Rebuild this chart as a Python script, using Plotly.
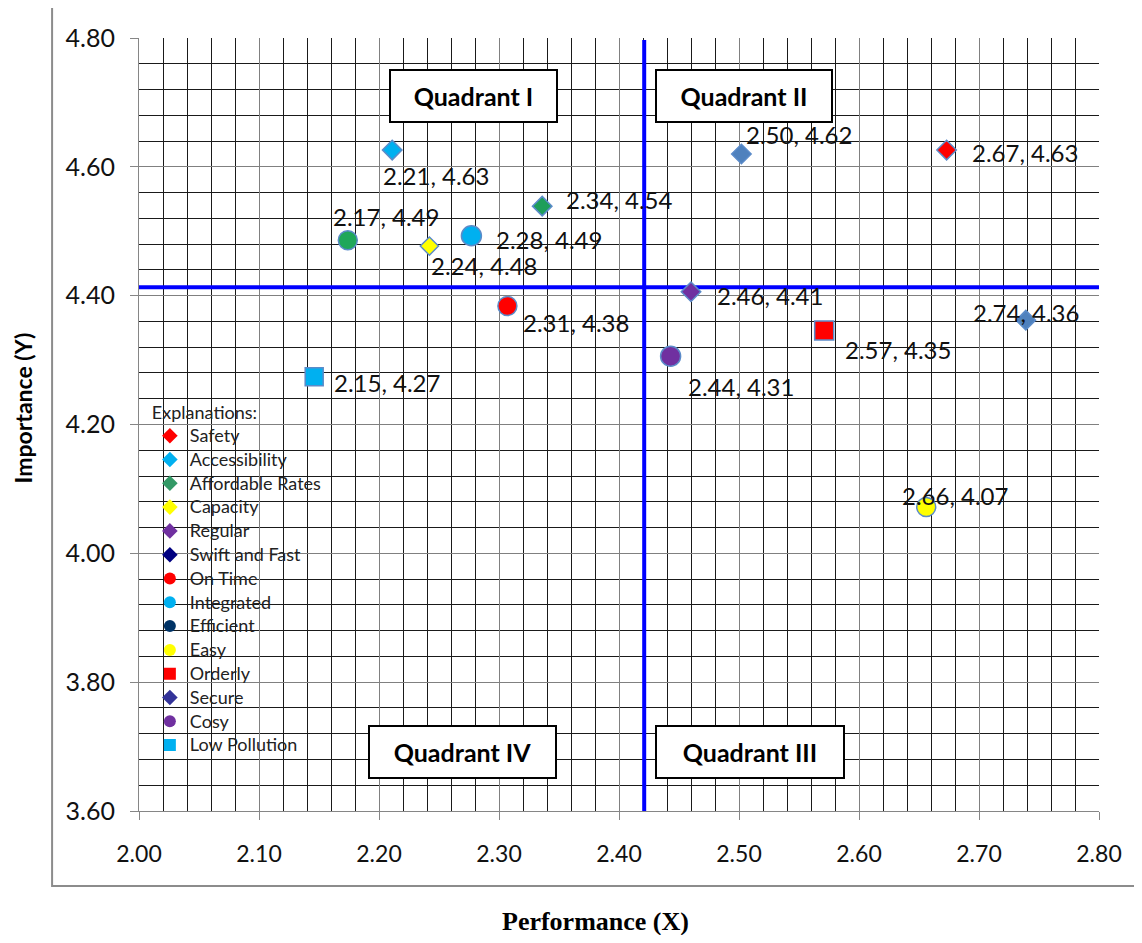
import plotly.graph_objects as go

# ---------------- data ----------------
categories = ["Safety", "Accessibility", "Affordable Rates", "Capacity", "Regular",
              "Swift and Fast", "On Time", "Integrated", "Efficient", "Easy",
              "Orderly", "Secure", "Cosy", "Low Pollution"]
performance = [2.673, 2.211, 2.336, 2.242, 2.460, 2.502, 2.307, 2.277, 2.174, 2.656,
               2.571, 2.739, 2.443, 2.146]
importance = [4.626, 4.626, 4.539, 4.477, 4.406, 4.620, 4.384, 4.493, 4.486, 4.072,
              4.346, 4.362, 4.306, 4.274]
perf_cut = 2.421
imp_cut = 4.413
quadrant_labels = ["Quadrant I", "Quadrant II", "Quadrant III", "Quadrant IV"]

# ---------------- styles ----------------
symbols = ["diamond", "diamond", "diamond", "diamond", "diamond", "diamond",
           "circle", "circle", "circle", "circle", "square", "diamond", "circle", "square"]
legend_colors = ["#FF0000", "#00B0F0", "#339966", "#FFFF00", "#7030A0", "#000080",
                 "#FF0000", "#00B0F0", "#003366", "#FFFF00", "#FF0000", "#333399",
                 "#7030A0", "#00B0F0"]
plot_colors = ["#FF0000", "#00B0F0", "#1E9E5A", "#FFFF00", "#7030A0", "#4F81BD",
               "#FF0000", "#00B0F0", "#1FA75A", "#FFFF00", "#FF0000", "#4F81BD",
               "#7030A0", "#00B0F0"]
sizes = [15, 15, 15, 14, 15, 15, 19, 20, 19, 19, 19, 15, 20, 18]
# label offsets in pixels (dx right, dy down)
label_offsets = [(78, 2), (44, 25), (77, -7), (55, 19), (79, 4), (58, -19),
                 (69, 17), (78, 4), (38, -24), (29, -11), (74, 19), (0, -8),
                 (70, 30), (73, 6)]

FONT = "Lato"
LEG_SPAN = '<span style="font-size:18px">{}</span>'

fig = go.Figure()

# data markers
for i, name in enumerate(categories):
    fig.add_trace(go.Scatter(
        x=[performance[i]], y=[importance[i]], mode="markers", name=name,
        showlegend=False, hoverinfo="text",
        hovertext=f"{name}: {performance[i]:.2f}, {importance[i]:.2f}",
        marker=dict(symbol=symbols[i], color=plot_colors[i], size=sizes[i],
                    line=dict(color="#5B8BC9", width=1.5)),
    ))

# legend-only entries
for i, name in enumerate(categories):
    fig.add_trace(go.Scatter(
        x=[None], y=[None], mode="markers", name=LEG_SPAN.format(name), showlegend=True,
        marker=dict(symbol=symbols[i], color=legend_colors[i], size=12,
                    line=dict(width=0)),
    ))

shapes = []
# outer chart border
shapes.append(dict(type="rect", xref="paper", yref="paper",
                   x0=(51 - 139) / 972, x1=(1150 - 139) / 972,
                   y0=(811 - 886) / 773, y1=(811 - 7) / 773,
                   line=dict(color="#8C8C8C", width=2), fillcolor="rgba(0,0,0,0)",
                   layer="below"))
# legend background
shapes.append(dict(type="rect", xref="paper", yref="paper",
                   x0=(155 - 139) / 972, x1=(343 - 139) / 972,
                   y0=(811 - 768) / 773, y1=(811 - 395) / 773,
                   line=dict(width=0), fillcolor="white", layer="between"))
# quadrant lines
shapes.append(dict(type="line", xref="x", yref="y", x0=perf_cut, x1=perf_cut,
                   y0=3.595, y1=4.797, line=dict(color="#0000FF", width=4), layer="between"))
shapes.append(dict(type="line", xref="x", yref="y", x0=2.0, x1=2.8,
                   y0=imp_cut, y1=imp_cut, line=dict(color="#0000FF", width=4), layer="between"))

annotations = []
for i in range(len(categories)):
    dx, dy = label_offsets[i]
    annotations.append(dict(
        x=performance[i], y=importance[i], xref="x", yref="y",
        text=f"{performance[i]:.2f}, {importance[i]:.2f}", showarrow=False,
        xshift=dx, yshift=-dy, font=dict(family=FONT, size=24, color="#111111")))

# quadrant boxes: (label, center x px, center y px, width px)
quad_boxes = [(quadrant_labels[0], 477.5, 96, 169), (quadrant_labels[1], 752, 96, 178),
              (quadrant_labels[2], 758, 751.5, 190), (quadrant_labels[3], 466.5, 751.5, 189)]
for lab, cx, cy, w in quad_boxes:
    annotations.append(dict(
        x=(cx - 139) / 972, y=(811 - cy) / 773, xref="paper", yref="paper",
        text=f"<b>{lab}</b>", showarrow=False, xanchor="center", yanchor="middle",
        width=w - 4, height=50, bgcolor="white", bordercolor="black",
        borderwidth=2, borderpad=0, font=dict(family=FONT, size=25, color="black")))

# axis titles
annotations.append(dict(x=(22 - 139) / 972, y=(811 - 408) / 773, xref="paper", yref="paper",
                        text="<b>Importance (Y)</b>", showarrow=False, textangle=-90,
                        xanchor="center", yanchor="middle",
                        font=dict(family=FONT, size=23, color="black")))
annotations.append(dict(x=(601 - 139) / 972, y=(811 - 922) / 773, xref="paper", yref="paper",
                        text="<b>Performance (X)</b>", showarrow=False,
                        xanchor="center", yanchor="middle",
                        font=dict(family="Liberation Serif", size=26, color="black")))

fig.update_layout(
    width=1126, height=927,
    margin=dict(l=131, r=23, t=30, b=124),
    paper_bgcolor="white", plot_bgcolor="white",
    shapes=shapes, annotations=annotations,
    showlegend=True,
    legend=dict(x=(150 - 139) / 972, y=(811 - 398) / 773, xanchor="left", yanchor="top",
                bgcolor="rgba(0,0,0,0)", borderwidth=0, tracegroupgap=0,
                title=dict(text=LEG_SPAN.format("Explanations:"),
                           font=dict(family=FONT, size=16, color="#222222")),
                font=dict(family=FONT, size=16, color="#222222"),
                itemclick=False),
    xaxis=dict(range=[2.0, 2.8], tick0=2.0, dtick=0.1, tickformat=".2f",
               showgrid=True, gridcolor="#808080", gridwidth=1,
               minor=dict(dtick=0.02, showgrid=True, gridcolor="#1a1a1a", gridwidth=1),
               showline=True, linecolor="#868686", linewidth=1,
               ticks="outside", ticklen=8, tickcolor="#868686",
               ticklabelstandoff=14, ticklabeloverflow="allow", zeroline=False,
               tickfont=dict(family=FONT, size=23, color="#111111")),
    yaxis=dict(range=[3.6, 4.8], tick0=3.6, dtick=0.2, tickformat=".2f",
               showgrid=True, gridcolor="#808080", gridwidth=1,
               minor=dict(dtick=0.04, showgrid=True, gridcolor="#1a1a1a", gridwidth=1),
               showline=True, linecolor="#868686", linewidth=1,
               ticks="outside", ticklen=8, tickcolor="#868686",
               ticklabelstandoff=10, zeroline=False,
               tickfont=dict(family=FONT, size=25, color="#111111")),
)

fig.write_html("out.html")
